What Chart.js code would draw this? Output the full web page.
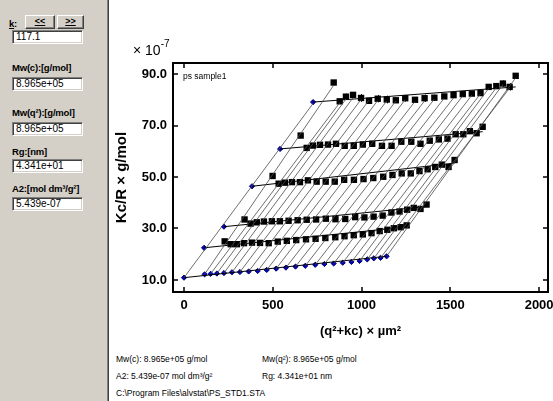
<!DOCTYPE html>
<html>
<head>
<meta charset="utf-8">
<script src="https://cdn.jsdelivr.net/npm/chart.js@4.4.1/dist/chart.umd.min.js"></script>
<style>
  body { margin: 0; width: 553px; height: 401px; overflow: hidden; background: #fff;
         font-family: "Liberation Sans", Arial, sans-serif; position: relative; }
  #panel { position: absolute; left: 0; top: 0; width: 107px; height: 401px; background: #d4d0c8; }
  #edge { position: absolute; left: 107px; top: 0; width: 1px; height: 401px; background: #808080;
          border-right: 1px solid #404040; }
  .lbl { position: absolute; left: 12px; font-size: 9.5px; font-weight: bold; color: #000; white-space: nowrap;
         letter-spacing: -0.2px; }
  .box { position: absolute; left: 12px; width: 71px; height: 14px; box-sizing: border-box; background: #fff;
         border-top: 1px solid #808080; border-left: 1px solid #808080;
         border-bottom: 1px solid #fff; border-right: 1px solid #fff;
         box-shadow: inset 1px 1px 0 #404040, inset -1px -1px 0 #d4d0c8;
         font-size: 10px; line-height: 12px; padding-left: 3px; color: #000; }
  .btn { position: absolute; top: 15px; height: 14px; box-sizing: border-box; background: #d4d0c8;
         border-top: 1px solid #fff; border-left: 1px solid #fff;
         border-bottom: 1px solid #404040; border-right: 1px solid #404040;
         box-shadow: inset -1px -1px 0 #808080;
         font-size: 9px; font-weight: bold; line-height: 11px; text-align: center; text-decoration: underline; }
  #chartWrap { position: absolute; left: 110px; top: 0; width: 443px; height: 345px; }
  .small { position: absolute; font-size: 8.5px; color: #000; white-space: nowrap; }
  #mult { position: absolute; left: 133px; top: 40px; font-size: 14px; color: #000; white-space: nowrap; }
  #mult sup { font-size: 10px; position: relative; top: -2px; }
</style>
</head>
<body>
<div id="panel">
  <div class="lbl" style="left:9px; top:18px;"><u>k</u>:</div>
  <div class="btn" style="left:25px; width:30px;">&lt;&lt;</div>
  <div class="btn" style="left:57px; width:27px;">&gt;&gt;</div>
  <div class="box" style="top:30px;">117.1</div>
  <div class="lbl" style="top:62px;">Mw(c):[g/mol]</div>
  <div class="box" style="top:77px;">8.965e+05</div>
  <div class="lbl" style="top:107px;">Mw(q²):[g/mol]</div>
  <div class="box" style="top:122px;">8.965e+05</div>
  <div class="lbl" style="top:146px;">Rg:[nm]</div>
  <div class="box" style="top:159px;">4.341e+01</div>
  <div class="lbl" style="top:183px;">A2:[mol dm³/g²]</div>
  <div class="box" style="top:197px;">5.439e-07</div>
</div>
<div id="edge"></div>
<div id="chartWrap"><canvas id="zimm" width="443" height="345"></canvas></div>
<div id="mult">× 10<sup>-7</sup></div>
<div class="small" style="left:183px; top:71px;">ps sample1</div>
<div class="small" style="left:116px; top:354px;">Mw(c): 8.965e+05 g/mol</div>
<div class="small" style="left:262px; top:354px;">Mw(q²): 8.965e+05 g/mol</div>
<div class="small" style="left:116px; top:371px;">A2: 5.439e-07 mol dm³/g²</div>
<div class="small" style="left:262px; top:371px;">Rg: 4.341e+01 nm</div>
<div class="small" style="left:116px; top:388px;">C:\Program Files\alvstat\PS_STD1.STA</div>

<script>
// scattering vectors q² (µm⁻²) for each angle
const q2 = [116, 150, 185, 225, 270, 315, 364, 415, 466, 519, 574, 628,
            683, 739, 791, 843, 894, 943, 989, 1032, 1069, 1107, 1141];
// k*c for each concentration
const kc = [113, 225, 383, 541, 727];

// Kc/R (x 10^-7) measured, one array per concentration
const conc1 = [25.0, 23.9, 23.9, 24.3, 24.5, 24.4, 24.3, 24.9, 25.2, 25.5, 25.8, 26.0,
               26.3, 26.6, 27.0, 27.4, 27.7, 28.2, 29.0, 29.5, 30.1, 30.5, 31.2];
const conc2 = [33.5, 31.9, 32.4, 32.7, 32.8, 32.8, 33.0, 33.2, 33.4, 33.5, 33.8, 33.6,
               33.7, 34.4, 34.3, 34.6, 35.0, 36.2, 36.6, 37.3, 38.0, 37.6, 39.3];
const conc3 = [50.4, 47.4, 47.8, 48.0, 48.0, 48.7, 48.2, 48.2, 48.2, 48.9, 48.9, 49.2,
               49.6, 50.1, 50.8, 51.4, 51.4, 52.3, 53.0, 53.9, 54.8, 53.9, 56.6];
const conc4 = [66.1, 61.3, 62.2, 62.5, 62.6, 62.9, 62.1, 62.1, 62.6, 62.9, 62.1, 62.1,
               63.7, 63.7, 62.9, 64.1, 64.6, 64.9, 66.6, 66.6, 67.8, 67.0, 69.5];
const conc5 = [86.7, 79.4, 81.2, 81.9, 80.7, 79.6, 80.4, 80.1, 79.8, 80.6, 80.0, 80.6,
               80.8, 81.3, 81.8, 82.2, 82.4, 82.6, 85.0, 85.3, 86.3, 85.0, 89.3];
// error half-widths on the highest concentration
const errTop = [0, 0.8, 1.2, 0.8, 1.5, 0.6, 1.4, 1.5, 0.6, 1.3, 0.8, 1.4,
                1.2, 0.8, 0.6, 0.6, 0.5, 0.6, 0.8, 0.8, 1.2, 1.4, 0];

// extrapolation c -> 0 for every angle
const zeroConc = [12.2, 12.4, 12.5, 12.7, 13.0, 13.1, 13.3, 13.5, 13.9, 14.4, 14.8, 15.2,
                  15.5, 15.9, 16.2, 16.4, 16.7, 17.0, 17.4, 18.0, 18.4, 18.6, 19.2];
// extrapolation q -> 0 for c = 0 and every concentration
const kcAll = [0, 113, 225, 383, 541, 727];
const zeroAngle = [10.9, 22.5, 30.7, 46.4, 60.9, 79.1];
// fitted concentration lines, value at the largest q²
const rowEnd = [19.2, 30.6, 38.5, 55.4, 67.6, 85.0];

const xTicks = [0, 500, 1000, 1500, 2000];
const yTicks = [10, 30, 50, 70, 90];

const rows = [conc1, conc2, conc3, conc4, conc5];
const q2Max = q2[q2.length - 1];
const kcMax = kc[kc.length - 1];

// slope of a line forced through (x0, y0)
function anchoredSlope(x0, y0, xs, ys) {
  let n = 0, d = 0;
  xs.forEach((x, i) => { n += (x - x0) * (ys[i] - y0); d += (x - x0) * (x - x0); });
  return n / d;
}
function pushSeg(arr, x0, y0, x1, y1) {
  arr.push({x: x0, y: y0}, {x: x1, y: y1}, {x: x1, y: null});
}

// angle lines (constant q, varying c)
let angleLines = [];
let s0 = anchoredSlope(0, zeroAngle[0], kcAll.slice(1), zeroAngle.slice(1));
pushSeg(angleLines, 0, zeroAngle[0], kcMax, zeroAngle[0] + s0 * kcMax);
q2.forEach((q, j) => {
  let xs = kc.map(k => q + k);
  let ys = rows.map(r => r[j]);
  let s = anchoredSlope(q, zeroConc[j], xs, ys);
  pushSeg(angleLines, q, zeroConc[j], q + kcMax, zeroConc[j] + s * kcMax);
});

// concentration lines (constant c, varying q)
let concLines = [];
kcAll.forEach((k, i) => {
  pushSeg(concLines, k, zeroAngle[i], k + q2Max, rowEnd[i]);
});

let squares = [];
rows.forEach((r, i) => {
  r.forEach((y, j) => squares.push({x: q2[j] + kc[i], y: y}));
});

let extrap = zeroConc.map((y, j) => ({x: q2[j], y: y}))
  .concat(zeroAngle.map((y, i) => ({x: kcAll[i], y: y})));

const framePlugin = {
  id: 'frame',
  beforeDatasetsDraw(chart) {
    const {ctx, scales: {x, y}} = chart;
    ctx.save();
    ctx.strokeStyle = '#000';
    ctx.lineWidth = 1;
    ctx.beginPath();
    conc5.forEach((v, j) => {
      if (!errTop[j]) return;
      let px = Math.round(x.getPixelForValue(q2[j] + kcMax)) + 0.5;
      ctx.moveTo(px, y.getPixelForValue(v + errTop[j]));
      ctx.lineTo(px, y.getPixelForValue(v - errTop[j]));
    });
    ctx.stroke();
    ctx.restore();
  },
  afterDraw(chart) {
    const {ctx, chartArea: a, scales: {x, y}} = chart;
    ctx.save();
    ctx.strokeStyle = '#000';
    ctx.lineWidth = 2;
    ctx.strokeRect(a.left, a.top, a.right - a.left, a.bottom - a.top);
    ctx.lineWidth = 1.5;
    ctx.beginPath();
    xTicks.forEach(v => {
      let px = Math.round(x.getPixelForValue(v));
      ctx.moveTo(px, a.top); ctx.lineTo(px, a.top + 5);
      ctx.moveTo(px, a.bottom); ctx.lineTo(px, a.bottom - 5);
    });
    yTicks.forEach(v => {
      let py = Math.round(y.getPixelForValue(v));
      ctx.moveTo(a.left, py); ctx.lineTo(a.left + 5, py);
      ctx.moveTo(a.right, py); ctx.lineTo(a.right - 5, py);
    });
    ctx.stroke();
    ctx.restore();
  }
};

let config = {
  type: 'scatter',
  data: {
    datasets: [
      {
        data: angleLines,
        showLine: true,
        spanGaps: false,
        borderColor: '#4a4a4a',
        borderWidth: 0.8,
        pointRadius: 0,
      },
      {
        data: concLines,
        showLine: true,
        spanGaps: false,
        borderColor: '#000',
        borderWidth: 1,
        pointRadius: 0,
      },
      {
        data: squares,
        pointStyle: 'rect',
        pointRadius: 4.5,
        backgroundColor: '#000',
        borderColor: '#000',
        borderWidth: 0,
      },
      {
        data: extrap,
        pointStyle: 'rectRot',
        pointRadius: 2.6,
        backgroundColor: '#0000c8',
        borderColor: '#000070',
        borderWidth: 1,
      },
    ],
  },
  options: {
    responsive: false,
    animation: false,
    devicePixelRatio: 1,
    layout: {padding: {top: 63, right: 5, left: 0, bottom: 0}},
    plugins: {legend: {display: false}, tooltip: {enabled: false}},
    scales: {
      x: {
        type: 'linear',
        min: -62,
        max: 2050,
        afterBuildTicks: s => { s.ticks = xTicks.map(v => ({value: v})); },
        afterFit: s => { s.height = 53; s.paddingLeft = 0; s.paddingRight = 0; },
        grid: {display: false, drawTicks: false},
        border: {display: false},
        ticks: {
          color: '#000',
          font: {family: 'Liberation Sans', size: 13, weight: 'bold'},
          padding: 6,
          maxRotation: 0,
          autoSkip: false,
          callback: v => String(v),
        },
        title: {
          display: true,
          text: '(q²+kc) × µm²',
          color: '#000',
          font: {family: 'Liberation Sans', size: 13, weight: 'bold'},
          padding: {top: 0, bottom: 6},
        },
      },
      y: {
        type: 'linear',
        min: 5.33,
        max: 94.28,
        afterBuildTicks: s => { s.ticks = yTicks.map(v => ({value: v})); },
        afterFit: s => { s.width = 63; s.paddingTop = 0; s.paddingBottom = 0; },
        grid: {display: false, drawTicks: false},
        border: {display: false},
        ticks: {
          color: '#000',
          font: {family: 'Liberation Sans', size: 13, weight: 'bold'},
          padding: 6,
          autoSkip: false,
          callback: v => v.toFixed(1),
        },
        title: {
          display: true,
          text: 'Kc/R × g/mol',
          color: '#000',
          font: {family: 'Liberation Sans', size: 15, weight: 'bold'},
          padding: {top: 3, bottom: 0},
        },
      },
    },
  },
  plugins: [framePlugin],
};

let zimmChart = new Chart(document.getElementById('zimm'), config);
</script>
</body>
</html>
